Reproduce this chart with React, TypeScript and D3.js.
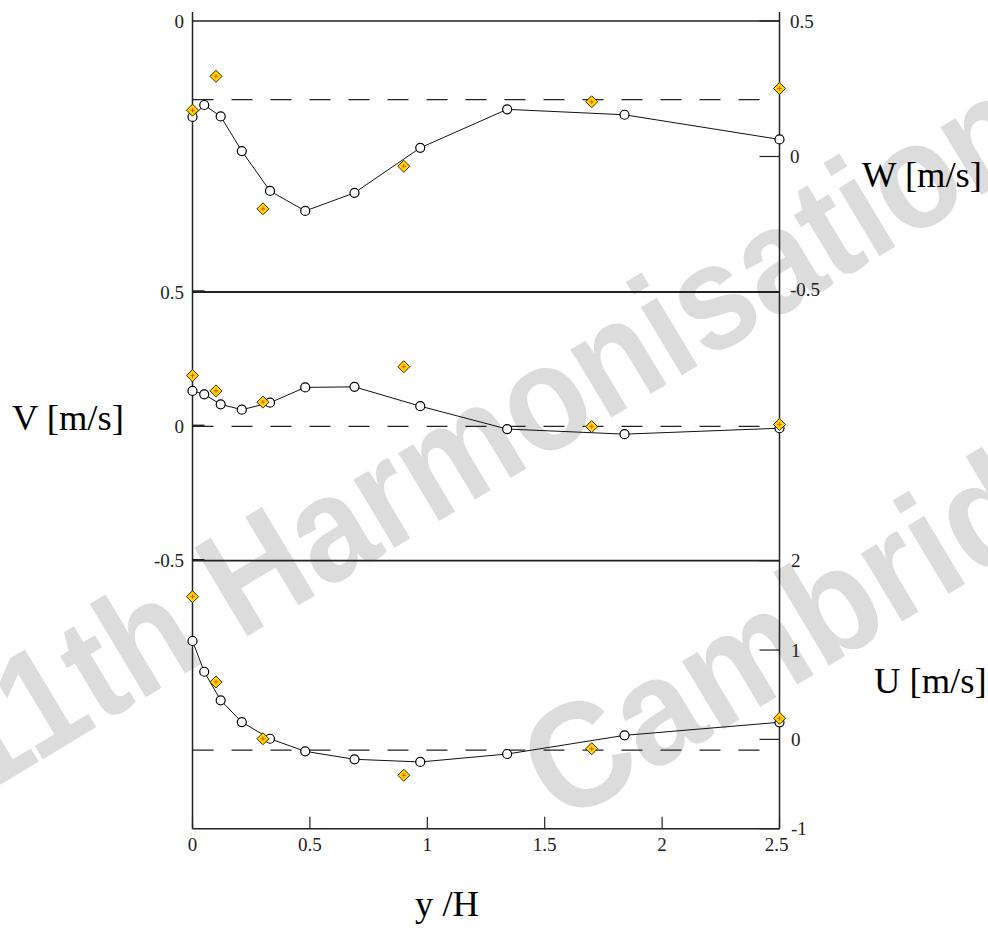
import * as d3 from 'd3';

// profile positions y/H
const simX = [0, 0.05, 0.12, 0.21, 0.33, 0.48, 0.69, 0.97, 1.34, 1.84, 2.5];
const expX = [0, 0.1, 0.3, 0.9, 1.7, 2.5];

// W component
const wSim = [0.146, 0.19, 0.148, 0.02, -0.127, -0.201, -0.134, 0.032, 0.174, 0.154, 0.063];
const wExp = [0.171, 0.296, -0.193, -0.036, 0.202, 0.251];
// V component
const vSim = [0.132, 0.119, 0.082, 0.062, 0.088, 0.145, 0.147, 0.075, -0.01, -0.029, -0.007];
const vExp = [0.189, 0.132, 0.09, 0.222, -0.001, 0.007];
// U component
const uSim = [1.101, 0.757, 0.437, 0.194, 0.007, -0.134, -0.223, -0.253, -0.164, 0.045, 0.191];
const uExp = [1.597, 0.642, 0.007, -0.402, -0.105, 0.236];

// dashed reference levels
const wRef = 0.21;
const vRef = 0;
const uRef = -0.12;

const xTicks = [0, 0.5, 1, 1.5, 2, 2.5];
const wTicks = [0.5, 0, -0.5];
const vTicks = [0.5, 0, -0.5];
const uTicks = [2, 1, 0, -1];
const topLeftTicks = [0];

const W = 988;
const H = 936;

const x = d3.scaleLinear().domain([0, 2.5]).range([192.5, 779.5]);
const yW = d3.scaleLinear().domain([-0.5, 0.5]).range([292, 21]);
const yV = d3.scaleLinear().domain([-0.5, 0.5]).range([560.7, 292]);
const yU = d3.scaleLinear().domain([-1, 2]).range([828.7, 560.7]);
const yTopLeft = d3.scaleLinear().domain([0, 0.5]).range([21, 292]);

const serif = "'Liberation Serif', 'Times New Roman', serif";
const left = x(0);
const right = x(2.5);

function Panel({ sim, exp, y, ref }: { sim: number[]; exp: number[]; y: d3.ScaleLinear<number, number>; ref: number }) {
  const line = d3
    .line<number>()
    .x((_, i) => x(simX[i]))
    .y((d) => y(d));
  return (
    <g>
      <line x1={left} x2={x(2.45)} y1={y(ref)} y2={y(ref)} stroke="#222" strokeWidth={1.2} strokeDasharray="21,18" />
      <path d={line(sim) ?? ''} fill="none" stroke="#111" strokeWidth={1} />
      {sim.map((d, i) => (
        <circle key={i} cx={x(simX[i])} cy={y(d)} r={4.5} fill="#fff" stroke="#000" strokeWidth={1.2} />
      ))}
      {exp.map((d, i) => {
        const cx = x(expX[i]);
        const cy = y(d);
        return (
          <g key={i} transform={`translate(${cx},${cy})`}>
            <path d="M0,-6L6,0L0,6L-6,0Z" fill="#ffd800" stroke="#3a2a00" strokeWidth={1} />
            <path d="M-2.2,0H2.2M0,-2.2V2.2" stroke="#ff3a00" strokeWidth={0.9} />
          </g>
        );
      })}
    </g>
  );
}

export default function App() {
  return (
    <svg width={W} height={H} style={{ position: 'absolute', left: 0, top: 0, background: '#fff' }}>
      {/* watermark */}
      <g fill="#dcdcdc" fontFamily="'Liberation Sans', Arial, sans-serif" fontWeight="bold" fontSize={134}>
        <text transform="translate(-22,798) rotate(-31) scale(1,1.12)">11th Harmonisation</text>
        <text transform="translate(562,826) rotate(-31) scale(1.04,1.12)">Cambridge</text>
      </g>

      {/* frame */}
      <g stroke="#222">
        <line x1={left} x2={left} y1={12} y2={yU(-1)} strokeWidth={1.5} />
        <line x1={right} x2={right} y1={12} y2={yU(-1)} strokeWidth={1.5} />
        <line x1={left} x2={right} y1={yW(0.5)} y2={yW(0.5)} strokeWidth={1.5} />
        <line x1={left} x2={right} y1={yV(0.5)} y2={yV(0.5)} strokeWidth={1.8} />
        <line x1={left} x2={right} y1={yU(2)} y2={yU(2)} strokeWidth={1.8} />
        <line x1={left} x2={right} y1={yU(-1)} y2={yU(-1)} strokeWidth={1.5} />
        {/* inward ticks */}
        {wTicks.map((t) => (
          <line key={'w' + t} x1={right - 20} x2={right} y1={yW(t)} y2={yW(t)} strokeWidth={1.2} />
        ))}
        {uTicks.map((t) => (
          <line key={'u' + t} x1={right - 20} x2={right} y1={yU(t)} y2={yU(t)} strokeWidth={1.2} />
        ))}
        {vTicks.map((t) => (
          <line key={'v' + t} x1={left} x2={left + 12} y1={yV(t) - 1} y2={yV(t) - 1} strokeWidth={1.5} />
        ))}
        {xTicks.map((t) => (
          <line key={'x' + t} x1={x(t)} x2={x(t)} y1={yU(-1) - 12} y2={yU(-1)} strokeWidth={1.2} />
        ))}
      </g>

      <Panel sim={wSim} exp={wExp} y={yW} ref={wRef} />
      <Panel sim={vSim} exp={vExp} y={yV} ref={vRef} />
      <Panel sim={uSim} exp={uExp} y={yU} ref={uRef} />

      {/* tick labels */}
      <g fontFamily={serif} fontSize={19} fill="#222" dominantBaseline="central">
        {topLeftTicks.map((t) => (
          <text key={'tl' + t} x={184} y={yTopLeft(t)} textAnchor="end">{t}</text>
        ))}
        {vTicks.map((t) => (
          <text key={'vl' + t} x={184} y={yV(t)} textAnchor="end">{t}</text>
        ))}
        {wTicks.map((t) => (
          <text key={'wl' + t} x={790} y={yW(t) - (t === -0.5 ? 3 : 0)}>{t}</text>
        ))}
        {uTicks.map((t) => (
          <text key={'ul' + t} x={791} y={yU(t)}>{t}</text>
        ))}
        {xTicks.map((t) => (
          <text key={'xl' + t} x={x(t) - (t === 2.5 ? 3 : 0)} y={844} textAnchor="middle">{t}</text>
        ))}
      </g>

      {/* axis titles */}
      <g fontFamily={serif} fontSize={36.5} fill="#000">
        <text x={862} y={187}>W [m/s]</text>
        <text x={12} y={430}>V [m/s]</text>
        <text x={874} y={693}>U [m/s]</text>
        <text x={415} y={916}>y /H</text>
      </g>
    </svg>
  );
}
